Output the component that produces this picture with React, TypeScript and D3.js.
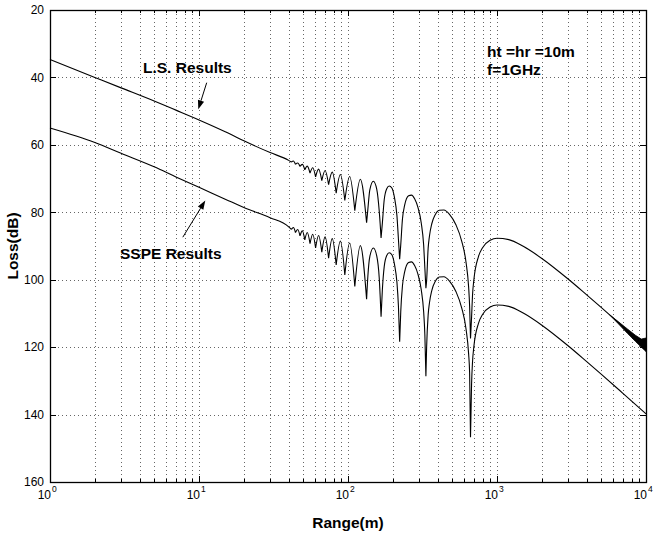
import React from 'react';
import * as d3 from 'd3';

// Range (m) sample points shared by both curves
const RANGE_M = [
  1, 2, 3, 5, 7, 10, 15, 20, 30, 40,
  41.7, 43, 44.4, 46, 47.6, 49.4, 51.3, 53.3, 55.6, 58, 60.6, 63.5, 66.7, 70.2,
  74.1, 78.4, 83.3, 88.9, 95.2, 102.6, 111.1, 121, 133.3,
  136, 140, 148, 156, 162, 166.7,
  170, 175, 182, 189, 197, 205, 213, 218, 222.2,
  226, 232, 240, 255, 267, 280, 295, 310, 322, 328, 333.3,
  337, 345, 352, 365, 385, 410, 440, 480, 530, 580, 620, 645, 655, 664,
  675, 685, 700, 750, 800, 900, 1000, 1200, 1500, 2000, 3000, 4000, 5000, 7000, 10000,
];

// L.S. Results loss (dB)
const LS_LOSS = [
  34.7, 40.0, 43.1, 47.0, 49.7, 52.6, 56.1, 58.8, 62.3, 64.6,
  65.1, 64.8, 65.8, 65.4, 66.4, 65.8, 67.4, 66.3, 68.4, 66.8, 69.5, 67.2, 70.6, 67.6,
  71.8, 68.1, 74.3, 68.8, 76.5, 69.4, 79.5, 70.2, 83.1,
  79.0, 73.4, 70.8, 73.2, 79.6, 87.6,
  83.3, 76.3, 73.0, 72.2, 72.8, 75.6, 81.0, 88.0, 93.9,
  89.6, 82.0, 77.9, 75.1, 74.9, 76.0, 78.6, 83.1, 89.8, 96.6, 102.5,
  100.3, 90.7, 87.1, 83.4, 80.7, 79.4, 79.3, 80.6, 83.7, 88.6, 94.9, 102.2, 107.8, 117.4,
  111.2, 104.6, 99.9, 93.2, 90.5, 88.3, 87.7, 88.1, 90.1, 93.7, 99.8, 104.5, 108.2, 113.9, 120.1,
];

// SSPE Results loss (dB)
const SSPE_LOSS = [
  55.0, 59.3, 62.5, 66.5, 69.5, 72.6, 76.1, 78.6, 81.6, 84.3,
  85.1, 84.5, 86.0, 85.1, 87.0, 85.5, 88.2, 86.0, 89.3, 86.5, 90.6, 86.9, 91.8, 87.3,
  93.6, 87.8, 95.6, 88.5, 98.6, 89.1, 102.0, 89.9, 105.8,
  98.8, 93.2, 90.6, 93.0, 99.4, 111.0,
  103.1, 96.1, 92.8, 92.0, 92.6, 95.4, 100.8, 107.8, 118.4,
  109.4, 101.8, 97.7, 94.9, 94.7, 95.8, 98.4, 102.9, 109.6, 116.4, 128.6,
  120.1, 110.5, 106.9, 103.2, 100.5, 99.2, 99.1, 100.4, 103.5, 108.4, 114.7, 122.0, 127.6, 146.7,
  131.0, 124.4, 119.7, 113.0, 110.3, 108.1, 107.5, 107.9, 109.9, 113.5, 119.6, 124.3, 128.0, 133.7, 139.8,
];

// thick noisy band at the end of the L.S. curve
const BAND_RANGE = [5700, 6500, 7500, 8500, 9300, 10000];
const BAND_TOP = [110.4, 112.4, 114.6, 116.5, 117.6, 117.3];
const BAND_BOTTOM = [110.4, 113.0, 115.9, 118.3, 120.0, 121.3];

const X_TICK_EXP = [0, 1, 2, 3, 4];
const X_MINOR_MULT = [2, 3, 4, 5, 6, 7, 8, 9];
const Y_TICKS = [20, 40, 60, 80, 100, 120, 140, 160];

const FONT = "'Liberation Sans', Arial, Helvetica, sans-serif";

export default function App() {
  const W = 654, H = 540;
  const L = 50, R = 646, T = 10, B = 482;
  const x = d3.scaleLog().domain([1, 1e4]).range([L, R]);
  const y = d3.scaleLinear().domain([20, 160]).range([T, B]);

  const curvePath = (loss: number[]) => {
    const pts: [number, number][] = RANGE_M.map((d, i) => [d, loss[i]]);
    const segs: [number, number][][] = [];
    let cur: [number, number][] = [pts[0]];
    for (let i = 1; i < pts.length; i++) {
      cur.push(pts[i]);
      if (i < pts.length - 1 && loss[i] > loss[i - 1] && loss[i] > loss[i + 1]) {
        segs.push(cur);
        cur = [pts[i]];
      }
    }
    segs.push(cur);
    const line = d3.line<[number, number]>()
      .x((p) => x(p[0]))
      .y((p) => y(p[1]))
      .curve(d3.curveMonotoneX);
    return segs.map((s) => line(s)).join('');
  };

  const bandPath = d3.area<number>()
    .x((d) => x(d))
    .y0((_, i) => y(BAND_TOP[i]))
    .y1((_, i) => y(BAND_BOTTOM[i]))
    .curve(d3.curveLinear)(BAND_RANGE) as string;

  const minorVals: number[] = [];
  X_TICK_EXP.slice(0, -1).forEach((e) => X_MINOR_MULT.forEach((m) => minorVals.push(m * Math.pow(10, e))));
  const majorVals = X_TICK_EXP.map((e) => Math.pow(10, e));

  const arrow = (x1: number, y1: number, x2: number, y2: number) => {
    const ang = Math.atan2(y2 - y1, x2 - x1);
    const len = 9, hw = 3.2;
    const bx = x2 - len * Math.cos(ang), by = y2 - len * Math.sin(ang);
    const px = -Math.sin(ang) * hw, py = Math.cos(ang) * hw;
    return (
      <g>
        <line x1={x1} y1={y1} x2={bx} y2={by} stroke="#000" strokeWidth={1} />
        <polygon points={`${x2},${y2} ${bx + px},${by + py} ${bx - px},${by - py}`} fill="#000" />
      </g>
    );
  };

  return (
    <svg width={W} height={H} style={{ position: 'absolute', left: 0, top: 0, background: '#fff' }}
      fontFamily={FONT}>
      <rect x={0} y={0} width={W} height={H} fill="#fff" />
      {/* grid */}
      <g stroke="#666" strokeWidth={1} strokeDasharray="1,3" shapeRendering="crispEdges">
        {[...minorVals, ...majorVals.slice(1, -1)].map((v) => (
          <line key={'gx' + v} x1={Math.round(x(v)) + 0.5} x2={Math.round(x(v)) + 0.5} y1={T} y2={B} />
        ))}
        {Y_TICKS.slice(1, -1).map((v) => (
          <line key={'gy' + v} x1={L} x2={R} y1={Math.round(y(v)) + 0.5} y2={Math.round(y(v)) + 0.5} />
        ))}
      </g>
      {/* ticks */}
      <g stroke="#000" strokeWidth={1} shapeRendering="crispEdges">
        {minorVals.map((v) => (
          <g key={'mt' + v}>
            <line x1={Math.round(x(v)) + 0.5} x2={Math.round(x(v)) + 0.5} y1={B} y2={B - 3} />
            <line x1={Math.round(x(v)) + 0.5} x2={Math.round(x(v)) + 0.5} y1={T} y2={T + 3} />
          </g>
        ))}
        {majorVals.map((v) => (
          <g key={'Mt' + v}>
            <line x1={Math.round(x(v)) + 0.5} x2={Math.round(x(v)) + 0.5} y1={B} y2={B - 6} />
            <line x1={Math.round(x(v)) + 0.5} x2={Math.round(x(v)) + 0.5} y1={T} y2={T + 6} />
          </g>
        ))}
        {Y_TICKS.map((v) => (
          <g key={'yt' + v}>
            <line x1={L} x2={L + 6} y1={Math.round(y(v)) + 0.5} y2={Math.round(y(v)) + 0.5} />
            <line x1={R} x2={R - 6} y1={Math.round(y(v)) + 0.5} y2={Math.round(y(v)) + 0.5} />
          </g>
        ))}
      </g>
      {/* curves */}
      <path d={curvePath(LS_LOSS)} fill="none" stroke="#000" strokeWidth={1.1} />
      <path d={curvePath(SSPE_LOSS)} fill="none" stroke="#000" strokeWidth={1.1} />
      <path d={bandPath} fill="#000" stroke="#000" strokeWidth={0.8} />
      {/* box */}
      <rect x={L + 0.5} y={T + 0.5} width={R - L} height={B - T} fill="none" stroke="#000" strokeWidth={1.3} />
      {/* tick labels */}
      <g fontSize={12} fill="#000">
        {Y_TICKS.map((v) => (
          <text key={'yl' + v} x={L - 6} y={y(v) + 4.3} textAnchor="end">{v}</text>
        ))}
        {X_TICK_EXP.map((e) => (
          <g key={'xl' + e}>
            <text x={x(Math.pow(10, e)) + 1} y={499} textAnchor="end">10</text>
            <text x={x(Math.pow(10, e)) + 2} y={492} fontSize={8.5}>{e}</text>
          </g>
        ))}
      </g>
      {/* axis labels */}
      <text x={(L + R) / 2} y={528} textAnchor="middle" fontSize={15.5} fontWeight="bold">Range(m)</text>
      <text transform={`translate(17.5,${(T + B) / 2}) rotate(-90)`} textAnchor="middle" fontSize={15.5} fontWeight="bold">Loss(dB)</text>
      {/* annotations */}
      <g fontSize={15.5} fontWeight="bold">
        <text x={143} y={72.5}>L.S. Results</text>
        <text x={120} y={258.5}>SSPE Results</text>
        <text x={487} y={56.5}>ht =hr =10m</text>
        <text x={487} y={75}>f=1GHz</text>
      </g>
      {arrow(206.7, 82.7, 198.3, 109.3)}
      {arrow(182.8, 237.2, 205.3, 200.5)}
    </svg>
  );
}
